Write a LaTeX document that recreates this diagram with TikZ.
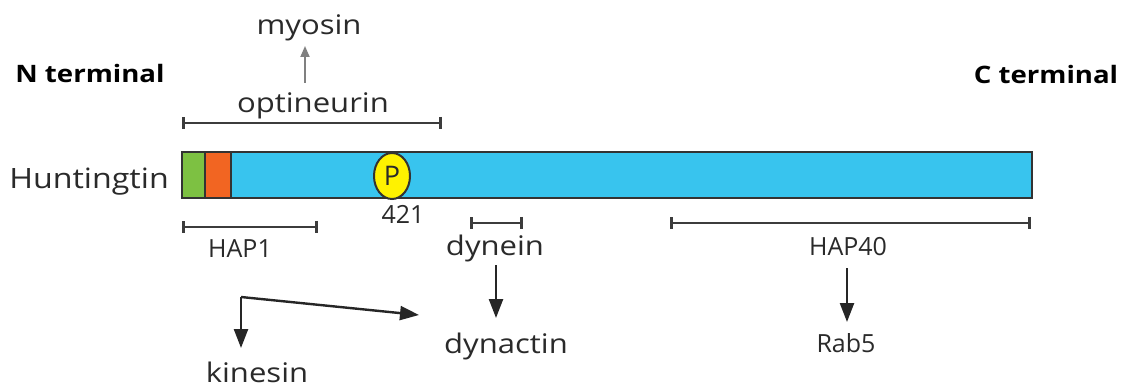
\documentclass[tikz,border=0pt]{standalone}
\usepackage{fontspec}
\setmainfont{Open Sans}[FakeStretch=1.15]
\newfontfamily\plainfont{Open Sans}
\usetikzlibrary{arrows.meta,shapes.geometric}
\definecolor{barblue}{HTML}{38C4EE}
\definecolor{bargreen}{HTML}{7DC142}
\definecolor{barorange}{HTML}{F26522}
\definecolor{pyellow}{HTML}{FFF200}
\definecolor{lineink}{HTML}{3C3C3C}
\definecolor{textink}{HTML}{2A2A2A}
\tikzset{
  lbl/.style={inner sep=0pt, anchor=base, font=\fontsize{27}{32}\selectfont, text=textink},
  caplbl/.style={lbl, font=\plainfont\fontsize{25}{30}\selectfont},
  term/.style={inner sep=0pt, anchor=base, font=\fontsize{24}{29}\selectfont\bfseries},
  span/.style={draw=lineink, line width=2.6pt, {Bar[width=12pt,line width=2.6pt]}-{Bar[width=12pt,line width=2.6pt]}},
  link/.style={draw=black!85, line width=2.4pt, -{Triangle[length=19pt,width=14pt]}},
  thinlink/.style={draw=black!50, line width=1.8pt, -{Triangle[length=11pt,width=9pt]}},
  segment/.style={draw=black!80, line width=2.2pt}
}
\begin{document}
\begin{tikzpicture}[x=1pt,y=-1pt]
\useasboundingbox (0,0) rectangle (1123,387);
\fill[white] (0,0) rectangle (1123,387);

% protein bar with its domains
\path[fill=barblue] (231,152) rectangle (1032,198);
\path[fill=bargreen] (182,152) rectangle (205,198);
\path[fill=barorange] (205,152) rectangle (231,198);
\draw[segment] (205,152) -- (205,198) (231,152) -- (231,198);
\draw[segment] (182,152) rectangle (1032,198);

% phosphorylation site
\node[draw=black!80, line width=2pt, fill=pyellow, ellipse, minimum width=36pt, minimum height=46pt, inner sep=0pt] (p) at (392,176) {};
\node[inner sep=0pt, font=\plainfont\fontsize{27}{32}\selectfont, text=textink] at (p) {P};
\node[caplbl] (pos) at (403,223) {421};

% terminals and name
\node[term] (nt) at (90,83) {N terminal};
\node[term] (ct) at (1046,84) {C terminal};
\node[lbl, font=\fontsize{28}{33}\selectfont] (htt) at (89,189) {Huntingtin};

% binding spans
\coordinate (optA) at (182,123); \coordinate (optB) at (442,123);
\draw[span] (optA) -- (optB);
\node[lbl] (opt) at (313,113) {optineurin};
\node[lbl] (myo) at (309,35) {myosin};
\coordinate (myoFrom) at (305,83);
\coordinate (myoTip) at (305,46);
\draw[thinlink] (myoFrom) -- (myoTip);

\coordinate (hapA) at (182,227); \coordinate (hapB) at (318,227);
\draw[span] (hapA) -- (hapB);
\node[caplbl] (hap1) at (240,258) {HAP1};

\coordinate (dynA) at (470,223); \coordinate (dynB) at (523,223);
\draw[span] (dynA) -- (dynB);
\node[lbl] (dyn) at (495,255) {dynein};

\coordinate (h40A) at (670,223); \coordinate (h40B) at (1031,223);
\draw[span] (h40A) -- (h40B);
\node[caplbl] (hap40) at (848,255) {HAP40};

% downstream partners
\node[lbl] (dynactin) at (506,353) {dynactin};
\node[caplbl] (rab5) at (846,352) {Rab5};
\node[lbl] (kin) at (257,382) {kinesin};

\coordinate (dynFrom) at (496,265); \coordinate (dynTip) at (496,318);
\coordinate (h40From) at (847,268); \coordinate (h40Tip) at (847,322);
\draw[link] (dynFrom) -- (dynTip);
\draw[link] (h40From) -- (h40Tip);

\coordinate (kinCorner) at (241,297);
\coordinate (kinDown) at (241,348);
\coordinate (kinTip) at (419,315);
\draw[link] (kinCorner) -- (kinDown);
\draw[link] (kinCorner) -- (kinTip);
\end{tikzpicture}
\end{document}
